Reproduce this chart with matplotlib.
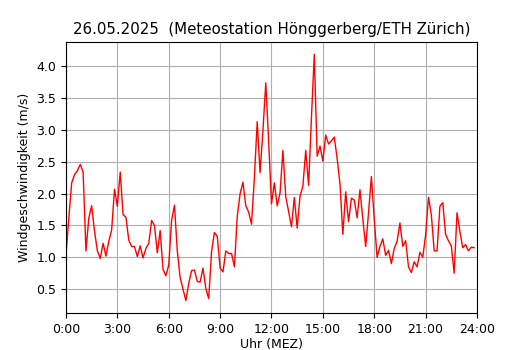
import matplotlib
matplotlib.use("Agg")
import matplotlib.pyplot as plt
import numpy as np

# Windgeschwindigkeit, 10-Minuten-Werte 0:00 - 23:50
wind = [
    1.04, 1.62, 2.17, 2.30, 2.36, 2.46, 2.34, 1.10, 1.62, 1.81, 1.41, 1.10,
    0.98, 1.22, 1.02, 1.25, 1.43, 2.07, 1.80, 2.34, 1.67, 1.63, 1.27, 1.17,
    1.17, 1.01, 1.18, 0.99, 1.14, 1.22, 1.58, 1.50, 1.07, 1.42, 0.81, 0.71,
    0.88, 1.58, 1.82, 1.10, 0.68, 0.50, 0.32, 0.59, 0.79, 0.80, 0.62, 0.61,
    0.83, 0.51, 0.35, 1.09, 1.39, 1.33, 0.83, 0.77, 1.10, 1.06, 1.06, 0.85,
    1.64, 2.00, 2.18, 1.81, 1.71, 1.52, 2.25, 3.13, 2.33, 2.99, 3.74, 2.83,
    1.84, 2.17, 1.81, 2.01, 2.68, 1.95, 1.72, 1.48, 1.94, 1.46, 1.96, 2.12,
    2.68, 2.13, 3.20, 4.19, 2.59, 2.75, 2.51, 2.92, 2.78, 2.83, 2.89, 2.55,
    2.15, 1.36, 2.03, 1.56, 1.93, 1.90, 1.62, 2.06, 1.60, 1.17, 1.70, 2.27,
    1.60, 1.00, 1.17, 1.29, 1.03, 1.11, 0.90, 1.14, 1.25, 1.54, 1.17, 1.26,
    0.85, 0.76, 0.93, 0.85, 1.08, 1.00, 1.35, 1.94, 1.67, 1.10, 1.10, 1.80,
    1.86, 1.36, 1.26, 1.18, 0.75, 1.70, 1.41, 1.15, 1.20, 1.10, 1.16, 1.15,
]
stunden = np.arange(len(wind)) / 6.0
tick_pos = [0, 3, 6, 9, 12, 15, 18, 21, 24]
tick_labels = ['0:00', '3:00', '6:00', '9:00', '12:00', '15:00', '18:00', '21:00', '24:00']

fig, ax = plt.subplots(figsize=(5.3, 3.5), dpi=100)
fig.subplots_adjust(left=0.1245, right=0.9, top=0.88, bottom=0.106)

ax.plot(stunden, wind, color='red', linewidth=1)
ax.set_xlim(0, 24)
ax.set_xticks(tick_pos)
ax.set_xticklabels(tick_labels, fontsize=9)
ax.tick_params(axis='y', labelsize=9)
ax.grid(True, color='#b0b0b0')
ax.set_xlabel('Uhr (MEZ)', fontsize=9, labelpad=2)
ax.set_ylabel('Windgeschwindigkeit (m/s)', fontsize=9)
ax.set_title('26.05.2025  (Meteostation Hönggerberg/ETH Zürich)', fontsize=10.8)

plt.savefig('out.png')
